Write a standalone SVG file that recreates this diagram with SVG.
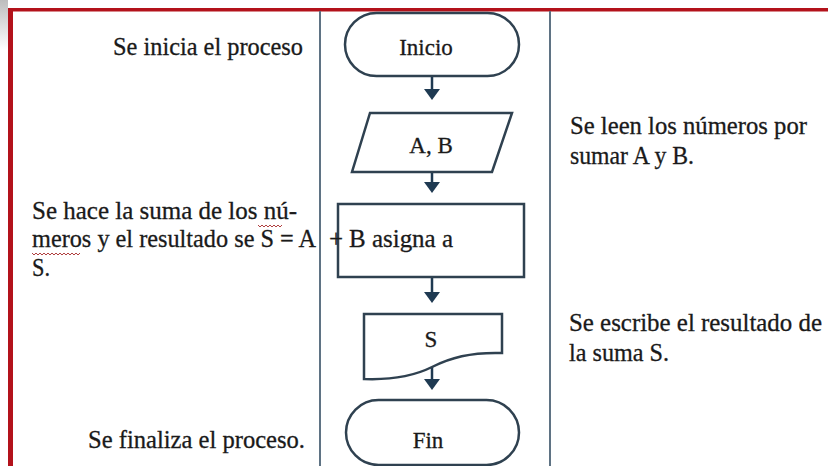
<svg xmlns="http://www.w3.org/2000/svg" width="828" height="466" viewBox="0 0 828 466">
<defs>
<style>
.t{font-family:"Liberation Serif","Times New Roman",serif;font-size:25px;fill:#1a1a1a;stroke:#1a1a1a;stroke-width:0.3}
.s{font-family:"Liberation Serif","Times New Roman",serif;font-size:23px;fill:#1a1a1a;stroke:#1a1a1a;stroke-width:0.3;text-anchor:middle}
.shape{fill:#ffffff;stroke:#2f4150;stroke-width:2.5}
.open{fill:none;stroke:#2f4150;stroke-width:2.5}
.shaft{stroke:#1f3a52;stroke-width:2.5;fill:none}
.head{fill:#1f3a52}
.col{stroke:#5f7384;stroke-width:2}
.sq{fill:none;stroke:#b04040;stroke-width:1}
</style>
<linearGradient id="g" x1="0" y1="0" x2="0" y2="1">
<stop offset="0" stop-color="#bdbdbd"/>
<stop offset="1" stop-color="#ffffff"/>
</linearGradient>
</defs>
<rect x="0" y="0" width="828" height="466" fill="#ffffff"/>
<rect x="0" y="0" width="8" height="50" fill="url(#g)"/>
<g id="frame">
<rect x="8" y="8" width="820" height="3.5" fill="#b3121b"/>
<rect x="8" y="8" width="5" height="458" fill="#b3121b"/>
<line class="col" x1="320" y1="11" x2="320" y2="466"/>
<line class="col" x1="550" y1="11" x2="550" y2="466"/>
</g>
<g id="connectors">
<line class="shaft" x1="432" y1="76" x2="432" y2="91"/>
<polygon class="head" points="424,89 440,89 432,100"/>
<line class="shaft" x1="432" y1="172" x2="432" y2="184"/>
<polygon class="head" points="424,182 440,182 432,193"/>
<line class="shaft" x1="432" y1="277" x2="432" y2="294"/>
<polygon class="head" points="424,292 440,292 432,303"/>
<line class="shaft" x1="432" y1="367" x2="432" y2="381"/>
<polygon class="head" points="424,379 440,379 432,390"/>
</g>
<g id="n-inicio">
<rect class="shape" x="345" y="13" width="174" height="63" rx="31.5"/>
<text class="s" x="426" y="55">Inicio</text>
</g>
<g id="n-entrada">
<polygon class="shape" points="370,113 512,113 492,172 352,172"/>
<text class="s" x="431" y="153">A, B</text>
</g>
<g id="n-proceso">
<rect class="open" x="338" y="204" width="186" height="73"/>
</g>
<g id="n-salida">
<path class="shape" d="M364,314 H502 V353 C470,352 450,358 432,367 C412,377 390,380 364,379 Z"/>
<text class="s" x="431" y="347">S</text>
</g>
<g id="n-fin">
<rect class="shape" x="346" y="400" width="173" height="65" rx="32.5"/>
<text class="s" x="428" y="448">Fin</text>
</g>
<g id="notes">
<text class="t" x="113" y="55" textLength="190" lengthAdjust="spacingAndGlyphs">Se inicia el proceso</text>
<text class="t" x="570" y="134" textLength="237" lengthAdjust="spacingAndGlyphs">Se leen los números por</text>
<text class="t" x="570" y="164" textLength="124" lengthAdjust="spacingAndGlyphs">sumar A y B.</text>
<text class="t" x="32" y="219" textLength="265" lengthAdjust="spacingAndGlyphs">Se hace la suma de los nú-</text>
<text class="t" x="32" y="247" textLength="284" lengthAdjust="spacingAndGlyphs">meros y el resultado se S = A</text>
<text class="t" x="329" y="247">+</text>
<text class="t" x="349" y="247" textLength="104" lengthAdjust="spacingAndGlyphs">B asigna a</text>
<text class="t" x="32" y="276" textLength="18" lengthAdjust="spacingAndGlyphs">S.</text>
<path class="sq" d="M258,225 l2,2 l2,-2 l2,2 l2,-2 l2,2 l2,-2 l2,2 l2,-2 l2,2 l2,-2 l2,2 l2,-2"/>
<path class="sq" d="M32,253 l2,2 l2,-2 l2,2 l2,-2 l2,2 l2,-2 l2,2 l2,-2 l2,2 l2,-2 l2,2 l2,-2 l2,2 l2,-2 l2,2 l2,-2 l2,2 l2,-2 l2,2 l2,-2 l2,2 l2,-2 l2,2 l2,-2"/>
<text class="t" x="569" y="331" textLength="253" lengthAdjust="spacingAndGlyphs">Se escribe el resultado de</text>
<text class="t" x="569" y="361" textLength="100" lengthAdjust="spacingAndGlyphs">la suma S.</text>
<text class="t" x="88" y="448" textLength="217" lengthAdjust="spacingAndGlyphs">Se finaliza el proceso.</text>
</g>
</svg>
